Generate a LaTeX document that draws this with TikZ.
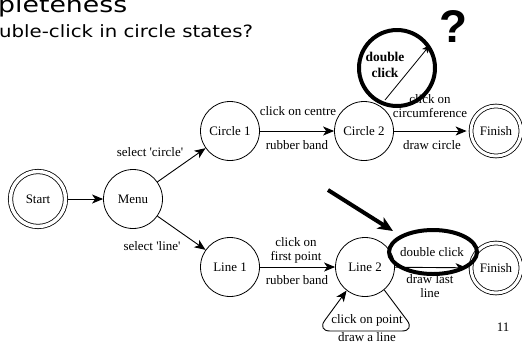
\documentclass[tikz,border=0pt]{standalone}
\usepackage{fontspec}
\setmainfont{Liberation Serif}
\newfontfamily\titlefont{DejaVu Sans}
\newfontfamily\qfont{Liberation Sans}
\usetikzlibrary{arrows.meta,shapes.geometric}
\begin{document}
\begin{tikzpicture}[x=1bp,y=-1bp,
  state/.style={draw, circle, minimum size=59bp, inner sep=0pt, line width=0.8bp, font=\fontsize{13}{15}\selectfont},
  finalstate/.style={state, double, double distance=3bp, minimum size=50bp},
  startstate/.style={state, double, double distance=3.5bp, minimum size=55bp},
  edge/.style={draw, line width=0.9bp, -{Stealth[length=11bp,width=9bp,inset=3bp]}},
  lbl/.style={font=\fontsize{13}{14}\selectfont, inner sep=0pt, align=center},
  thick annot/.style={draw, line width=4bp},
]
\useasboundingbox (0,0) rectangle (522,347);

% titles
\node[anchor=base west, inner sep=0pt] (title) at (-2,12) {\titlefont\fontsize{22}{24}\selectfont\scalebox{1.22}[1]{pleteness}};
\node[anchor=base west, inner sep=0pt] (subtitle) at (-1,37) {\titlefont\fontsize{17}{19}\selectfont\scalebox{1.165}[1]{uble-click in circle states?}};

% states
\node[startstate] (start) at (38,199) {Start};
\node[state] (menu) at (133,199) {Menu};
\node[state] (c1) at (230,131) {Circle 1};
\node[state] (c2) at (364,131) {Circle 2};
\node[finalstate] (f1) at (496,131) {Finish};
\node[state] (l1) at (230,267) {Line 1};
\node[state] (l2) at (365,267) {Line 2};
\node[finalstate] (f2) at (496,268) {Finish};

% edges
\draw[edge, shorten <=2bp] (start) -- (menu);
\draw[edge] (menu) -- (c1);
\draw[edge] (menu) -- (l1);
\draw[edge] (c1) -- (c2);
\draw[edge, shorten >=4bp] (c2) -- (f1);
\draw[edge] (l1) -- (l2);
\draw[edge, shorten >=4bp] (l2) -- (f2);
\coordinate (loopr) at (415,331);
\coordinate (loopl) at (317,331);
\draw[edge, rounded corners=13bp] (l2.-50) -- (loopr) -- (loopl) -- (l2.-128);

% edge labels
\node[lbl] (selc) at (150,152) {select \textquotesingle circle\textquotesingle};
\node[lbl] (sell) at (152,246) {select \textquotesingle line\textquotesingle};
\node[lbl] (coc) at (298,111) {click on centre};
\node[lbl] (rb1) at (297,145) {rubber band};
\node[lbl] (coc2) at (430,106) {click on\\circumference};
\node[lbl] (dc) at (432,145) {draw circle};
\node[lbl] (cofp) at (296,250) {click on\\first point};
\node[lbl] (rb2) at (297,280) {rubber band};
\node[lbl] (dbl) at (432,252) {double click};
\node[lbl] (dll) at (430,286) {draw last\\line};
\node[lbl] (cop) at (367,320) {click on point};
\node[lbl] (dal) at (367,337) {draw a line};
\node[lbl] (pg) at (503,327) {11};

% annotations
\node[thick annot, circle, minimum size=76bp, inner sep=0pt] (forbid) at (397,68) {};
\node[inner sep=0pt, align=center, font=\bfseries\fontsize{13.5}{16}\selectfont] (dbltxt) at (385,65) {double\\click};
\coordinate (fa) at (385,100);
\coordinate (fb) at (430,45);
\draw[line width=0.8bp, -{Stealth[length=8bp,width=7bp,inset=2bp]}] (fa) -- (fb);
\node[anchor=base, inner sep=0pt, font=\qfont\bfseries\fontsize{46}{48}\selectfont] (qm) at (453,42) {?};

\node[thick annot, ellipse, minimum width=88bp, minimum height=44bp, inner sep=0pt] (ell) at (433,252) {};
\coordinate (ta) at (328,190);
\coordinate (tb) at (393,231);
\draw[line width=4bp, -{Stealth[length=15bp,width=13bp,inset=4bp]}] (ta) -- (tb);
\end{tikzpicture}
\end{document}
